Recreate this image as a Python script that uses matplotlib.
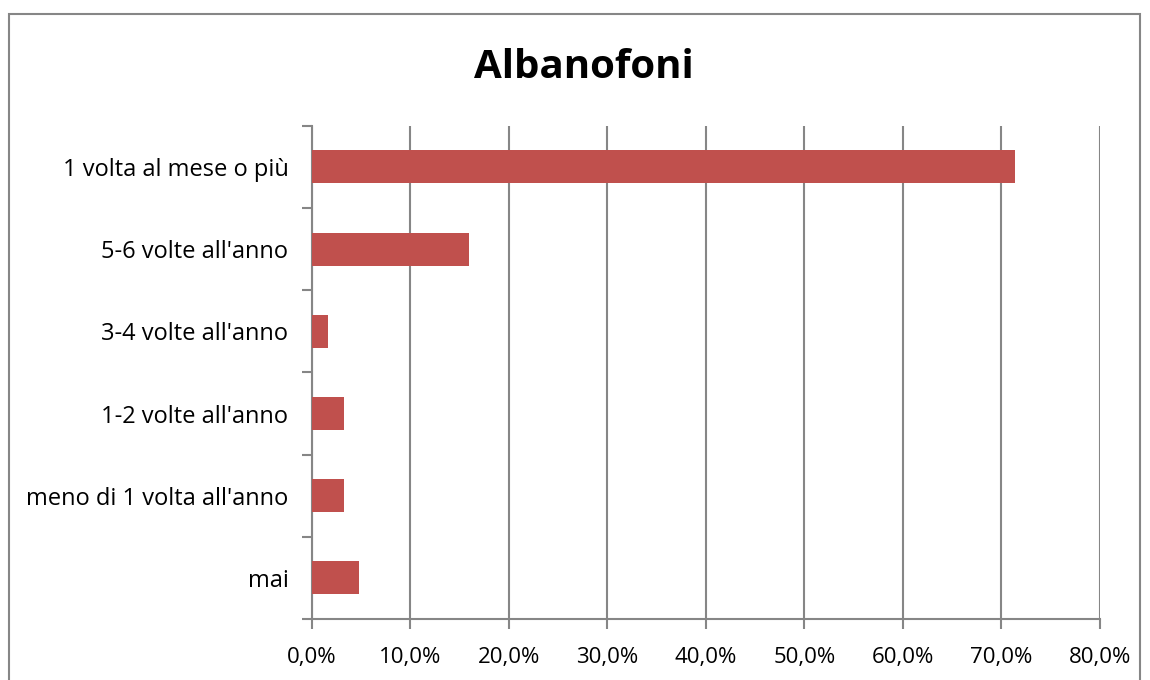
import numpy as np
import matplotlib.pyplot as plt
from matplotlib.patches import Rectangle
from matplotlib.ticker import FuncFormatter, FixedLocator

# data (top to bottom as shown)
categories = ['1 volta al mese o più', "5-6 volte all'anno", "3-4 volte all'anno",
              "1-2 volte all'anno", "meno di 1 volta all'anno", 'mai']
values = [71.4, 15.9, 1.6, 3.2, 3.2, 4.8]
title = 'Albanofoni'

plt.rcParams['font.family'] = ['Open Sans', 'DejaVu Sans']
grey = '#868686'

fig = plt.figure(figsize=(11.5, 6.8), dpi=100)
ax = fig.add_axes([0.2713, 0.0897, 0.6852, 0.7253])

# outer chart border
fig.patches.append(Rectangle((9 / 1150, -0.05), (1140 - 9) / 1150, 1 - 14 / 680 + 0.05,
                             transform=fig.transFigure, fill=False,
                             edgecolor=grey, linewidth=1.5))

y = np.arange(len(categories))[::-1]
ax.barh(y, values, height=0.4, color='#C0504D', zorder=3)

ax.set_xlim(0, 80)
ax.set_ylim(-0.5, len(categories) - 0.5)
ax.set_xticks(np.arange(0, 81, 10))
ax.xaxis.set_major_formatter(FuncFormatter(lambda v, p: f'{v:.1f}'.replace('.', ',') + '%'))
ax.grid(axis='x', color=grey, linewidth=1.5, zorder=0)

ax.set_yticks(y)
ax.set_yticklabels(categories)
ax.yaxis.set_minor_locator(FixedLocator(np.arange(-0.5, len(categories), 1.0)))
ax.tick_params(axis='y', which='major', length=0, pad=17, labelsize=17)
ax.tick_params(axis='y', which='minor', length=7, width=1.5, color=grey)
ax.tick_params(axis='x', length=7, width=1.5, color=grey, labelsize=16, pad=13)

for s in ['top', 'right']:
    ax.spines[s].set_visible(False)
for s in ['left', 'bottom']:
    ax.spines[s].set_color(grey)
    ax.spines[s].set_linewidth(1.5)

fig.text(584 / 1150, 1 - 68 / 680, title, ha='center', va='center',
         fontsize=29, fontweight='bold')

fig.savefig('out.png', dpi=100)
